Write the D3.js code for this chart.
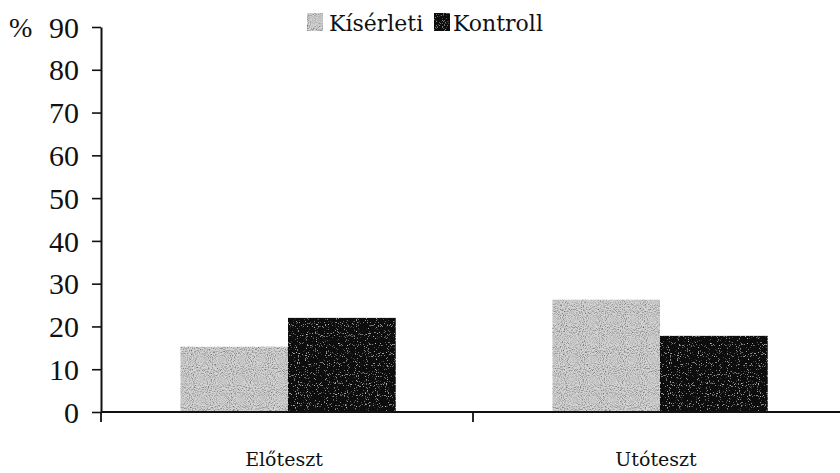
<!DOCTYPE html>
<html>
<head>
<meta charset="utf-8">
<script src="https://cdn.jsdelivr.net/npm/d3@7"></script>
<style>
  html, body { margin: 0; padding: 0; background: #fff; }
  svg { display: block; }
</style>
</head>
<body>
<svg id="chart" width="840" height="473"></svg>
<script>
// Test phases on the x axis
const categories = ["Előteszt", "Utóteszt"];
// Groups shown side by side within each phase
const seriesNames = ["Kísérleti", "Kontroll"];
// Percentages per group, one value per phase
const kiserleti = [15.3, 26.3];
const kontroll = [22.0, 17.8];
// Y axis ticks
const yTicks = [0, 10, 20, 30, 40, 50, 60, 70, 80, 90];

const seriesValues = { "Kísérleti": kiserleti, "Kontroll": kontroll };
const fills = { "Kísérleti": "#d4d4d4", "Kontroll": "#080808" };
const grains = { "Kísérleti": "url(#grain-light)", "Kontroll": "url(#grain-dark)" };

const svg = d3.select("#chart");
const plot = { left: 101, right: 840, top: 27, bottom: 412 };

// Grain filters for the stippled bar fills
const defs = svg.append("defs");
const fl = defs.append("filter").attr("id", "grain-light")
  .attr("x", 0).attr("y", 0).attr("width", 1).attr("height", 1);
fl.append("feTurbulence").attr("type", "fractalNoise").attr("baseFrequency", 0.95)
  .attr("numOctaves", 1).attr("seed", 4).attr("result", "noise");
fl.append("feColorMatrix").attr("in", "noise").attr("type", "saturate").attr("values", 0).attr("result", "gray");
const ctl = fl.append("feComponentTransfer").attr("in", "gray").attr("result", "contrast");
["feFuncR", "feFuncG", "feFuncB"].forEach(f => ctl.append(f).attr("type", "linear").attr("slope", 2.6).attr("intercept", -0.45));
ctl.append("feFuncA").attr("type", "linear").attr("slope", 0).attr("intercept", 1);
fl.append("feBlend").attr("in", "SourceGraphic").attr("in2", "contrast").attr("mode", "multiply").attr("result", "mixed");
fl.append("feComposite").attr("in", "mixed").attr("in2", "SourceGraphic").attr("operator", "in");

const fd = defs.append("filter").attr("id", "grain-dark")
  .attr("x", 0).attr("y", 0).attr("width", 1).attr("height", 1);
fd.append("feTurbulence").attr("type", "fractalNoise").attr("baseFrequency", 0.9)
  .attr("numOctaves", 1).attr("seed", 9).attr("result", "noise");
fd.append("feColorMatrix").attr("in", "noise").attr("type", "saturate").attr("values", 0).attr("result", "gray");
const ctd = fd.append("feComponentTransfer").attr("in", "gray").attr("result", "specks");
["feFuncR", "feFuncG", "feFuncB"].forEach(f => ctd.append(f).attr("type", "linear").attr("slope", 4).attr("intercept", -2.35));
ctd.append("feFuncA").attr("type", "linear").attr("slope", 0).attr("intercept", 1);
fd.append("feBlend").attr("in", "SourceGraphic").attr("in2", "specks").attr("mode", "screen").attr("result", "mixed");
fd.append("feComposite").attr("in", "mixed").attr("in2", "SourceGraphic").attr("operator", "in");

// Scales
const x0 = d3.scaleBand().domain(categories).range([plot.left, 845]).padding(0);
const x1 = d3.scaleBand().domain(seriesNames).range([0, x0.bandwidth()])
  .paddingInner(0).paddingOuter(0.727);
const y = d3.scaleLinear().domain([0, 90]).range([plot.bottom, plot.top]);

// Bars
const groups = svg.append("g").selectAll("g").data(categories).join("g")
  .attr("transform", d => `translate(${x0(d) + 1},0)`);
groups.selectAll("rect")
  .data((c, i) => seriesNames.map(s => ({ s, v: seriesValues[s][i] })))
  .join("rect")
  .attr("x", d => x1(d.s))
  .attr("y", d => y(d.v))
  .attr("width", x1.bandwidth())
  .attr("height", d => y(0) - y(d.v))
  .attr("fill", d => fills[d.s])
  .attr("filter", d => grains[d.s]);

// Y axis
const yAxis = d3.axisLeft(y).tickValues(yTicks).tickSize(9).tickSizeOuter(0).tickPadding(13);
const gy = svg.append("g").attr("transform", `translate(${plot.left},0)`).call(yAxis);
gy.select(".domain").attr("stroke", "#111").attr("stroke-width", 2);
gy.selectAll(".tick line").attr("stroke", "#111").attr("stroke-width", 1.6);
gy.selectAll(".tick text")
  .attr("font-family", "'Liberation Serif', serif")
  .attr("font-size", 30).attr("fill", "#111").attr("dy", "0.34em");

// X axis: baseline with ticks at the category boundaries
svg.append("line").attr("x1", plot.left).attr("x2", plot.right).attr("y1", y(0)).attr("y2", y(0))
  .attr("stroke", "#111").attr("stroke-width", 2.2);
const boundaries = categories.map(c => x0(c));
svg.append("g").selectAll("line").data(boundaries).join("line")
  .attr("x1", d => d).attr("x2", d => d)
  .attr("y1", y(0)).attr("y2", y(0) + 10)
  .attr("stroke", "#111").attr("stroke-width", 1.8);
svg.append("g").selectAll("text").data(categories).join("text")
  .attr("x", d => x0(d) + x0.bandwidth() / 2 - 3)
  .attr("y", 466)
  .attr("text-anchor", "middle")
  .attr("font-family", "'DejaVu Serif', serif")
  .attr("font-size", 19).attr("fill", "#111")
  .text(d => d);

// Unit label
svg.append("text").attr("x", 9).attr("y", 37)
  .attr("font-family", "'Liberation Serif', serif")
  .attr("font-size", 28).attr("fill", "#111").text("%");

// Legend
const legendItems = [
  { s: "Kísérleti", box: 307, tx: 329 },
  { s: "Kontroll", box: 434, tx: 453 }
];
const lg = svg.append("g");
lg.selectAll("rect").data(legendItems).join("rect")
  .attr("x", d => d.box).attr("y", 13).attr("width", 16).attr("height", 18)
  .attr("fill", d => fills[d.s]).attr("filter", d => grains[d.s]);
lg.selectAll("text").data(legendItems).join("text")
  .attr("x", d => d.tx).attr("y", 31)
  .attr("font-family", "'DejaVu Serif', serif")
  .attr("font-size", 22).attr("fill", "#111")
  .text(d => d.s);
</script>
</body>
</html>
